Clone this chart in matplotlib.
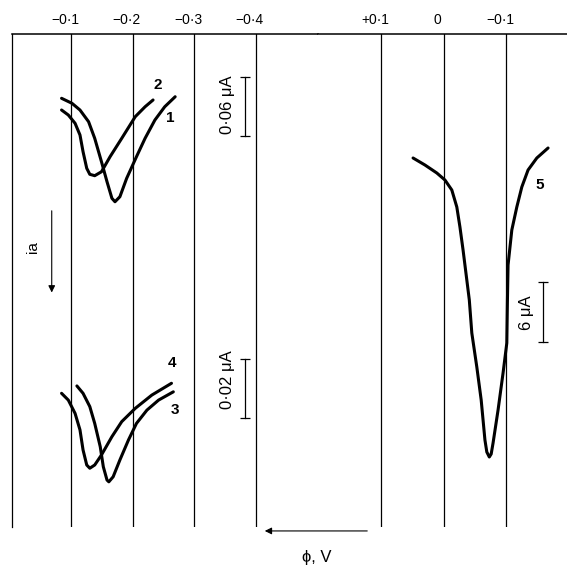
import numpy as np
import matplotlib
matplotlib.use("Agg")
import matplotlib.pyplot as plt
import matplotlib.transforms as mtransforms

plt.rcParams['font.family'] = ['Liberation Sans', 'DejaVu Sans']

# potential axis labels (V)
left_ticks = [-0.1, -0.2, -0.3, -0.4]
left_labels = ["\u22120\u00b71", "\u22120\u00b72", "\u22120\u00b73", "\u22120\u00b74"]
right_ticks = [0.1, 0.0, -0.1]
right_labels = ["+0\u00b71", "0", "\u22120\u00b71"]

# curves 1, 2 : potential (V) and anodic current (uA)
e1 = [-0.084, -0.101, -0.114, -0.128, -0.138, -0.149, -0.158, -0.166, -0.171,
      -0.179, -0.190, -0.206, -0.220, -0.236, -0.252, -0.269]
i1 = [0.0186, 0.0237, 0.0305, 0.0424, 0.0593, 0.0831, 0.1034, 0.1203, 0.1238,
      0.1187, 0.1000, 0.0780, 0.0593, 0.0407, 0.0272, 0.0170]

e2 = [-0.084, -0.095, -0.106, -0.114, -0.119, -0.125, -0.130, -0.138, -0.149,
      -0.163, -0.182, -0.204, -0.220, -0.233]
i2 = [0.0305, 0.0356, 0.0440, 0.0559, 0.0729, 0.0898, 0.0959, 0.0973, 0.0933,
      0.0780, 0.0593, 0.0373, 0.0272, 0.0203]

# curves 3, 4
e3 = [-0.109, -0.119, -0.130, -0.138, -0.147, -0.152, -0.158, -0.161, -0.168,
      -0.179, -0.193, -0.206, -0.223, -0.242, -0.266]
i3 = [0.0054, 0.0079, 0.0124, 0.0181, 0.0260, 0.0328, 0.0373, 0.0379, 0.0362,
      0.0305, 0.0237, 0.0181, 0.0136, 0.0102, 0.0074]

e4 = [-0.084, -0.095, -0.106, -0.114, -0.119, -0.125, -0.130, -0.138, -0.149,
      -0.166, -0.182, -0.204, -0.231, -0.263]
i4 = [0.0079, 0.0102, 0.0147, 0.0203, 0.0271, 0.0322, 0.0333, 0.0322, 0.0288,
      0.0226, 0.0175, 0.0130, 0.0085, 0.0045]

# curve 5
e5 = [0.049, 0.030, 0.011, -0.002, -0.013, -0.021, -0.026, -0.031, -0.037,
      -0.041, -0.045, -0.053, -0.060, -0.066, -0.069, -0.073, -0.076, -0.079,
      -0.087, -0.095, -0.101, -0.102, -0.103, -0.109, -0.117, -0.125, -0.135,
      -0.149, -0.167]
i5 = [0.8, 1.5, 2.3, 3.0, 4.0, 5.7, 7.7, 10.0, 13.0,
      15.0, 18.3, 21.7, 25.0, 29.0, 30.2, 30.7, 30.4, 29.3,
      26.0, 22.3, 19.3, 15.0, 11.5, 8.0, 5.7, 3.7, 2.0,
      0.8, -0.2]

W, H = 567, 565
fig = plt.figure(figsize=(W / 100, H / 100), dpi=100)

def box(x0, y0, x1, y1):
    return [x0 / W, 1 - y1 / H, (x1 - x0) / W, (y1 - y0) / H]

axL = fig.add_axes(box(12, 34, 318, 527))
axR = fig.add_axes(box(318, 34, 567, 527))
axL.set_xlim(-0.0033, -0.5016)
axR.set_xlim(0.2011, -0.1973)

shift = mtransforms.ScaledTranslation(-0.06, 0, fig.dpi_scale_trans)
for ax, ticks, labels in ((axL, left_ticks, left_labels), (axR, right_ticks, right_labels)):
    ax.set_ylim(0, 1)
    ax.set_yticks([])
    for s in ("right", "bottom", "left"):
        ax.spines[s].set_visible(False)
    ax.spines["top"].set_linewidth(1.1)
    ax.xaxis.tick_top()
    ax.set_xticks(ticks, labels)
    ax.tick_params(axis="x", length=0, pad=5, labelsize=10)
    for lab in ax.get_xticklabels():
        lab.set_transform(lab.get_transform() + shift)
    for t in ticks:
        ax.axvline(t, color="k", lw=0.9)
axL.spines["left"].set_visible(True)
axL.spines["left"].set_linewidth(0.9)

line_kw = dict(color="k", lw=2.2, solid_joinstyle="round", solid_capstyle="round")
bar_kw = dict(color="k", lw=0.9, marker="_", ms=7, mew=0.9)
num_kw = dict(fontsize=11, fontweight="bold", ha="center", va="center")

# curves 1 and 2
ax12 = axL.twinx()
ax12.set_ylim(0.4546, -0.0468)
ax12.axis("off")
ax12.plot(e1, i1, **line_kw)
ax12.plot(e2, i2, **line_kw)
ax12.text(-0.241, 0.005, "2", **num_kw)
ax12.text(-0.261, 0.039, "1", **num_kw)
ax12.plot([-0.3827, -0.3827], [-0.003, 0.057], **bar_kw)
ax12.text(-0.355, 0.025, "0\u00b706 \u03bcA", rotation=90, fontsize=12,
          ha="center", va="center")

# curves 3 and 4
ax34 = axL.twinx()
ax34.set_ylim(0.05322, -0.1139)
ax34.axis("off")
ax34.plot(e3, i3, **line_kw)
ax34.plot(e4, i4, **line_kw)
ax34.text(-0.264, -0.0024, "4", **num_kw)
ax34.text(-0.269, 0.0136, "3", **num_kw)
ax34.plot([-0.3827, -0.3827], [-0.0037, 0.0163], **bar_kw)
ax34.text(-0.355, 0.0034, "0\u00b702 \u03bcA", rotation=90, fontsize=12,
          ha="center", va="center")

# curve 5
ax5 = axR.twinx()
ax5.set_ylim(37.7, -11.6)
ax5.axis("off")
ax5.plot(e5, i5, **line_kw)
ax5.text(-0.154, 3.5, "5", **num_kw)
ax5.plot([-0.1589, -0.1589], [13.2, 19.2], **bar_kw)
ax5.text(-0.1333, 16.3, "6 \u03bcA", rotation=90, fontsize=12,
         ha="center", va="center")

# current direction
tr = axL.get_xaxis_transform()
axL.annotate("", xy=(-0.068, 0.47), xytext=(-0.068, 0.647), xycoords=tr,
             arrowprops=dict(arrowstyle="-|>", lw=0.8, color="k", mutation_scale=10))
axL.text(-0.0375, 0.568, "ia", transform=tr, rotation=90, fontsize=11,
         ha="center", va="center")

# potential direction
axL.annotate("", xy=(-0.4104, -0.008), xytext=(-0.5863, -0.008), xycoords=tr,
             annotation_clip=False,
             arrowprops=dict(arrowstyle="-|>", lw=0.8, color="k", mutation_scale=10))
axL.text(-0.5, -0.061, "\u03d5, V", transform=tr, fontsize=12,
         ha="center", va="center", clip_on=False)

fig.savefig("out.png", dpi=100)
